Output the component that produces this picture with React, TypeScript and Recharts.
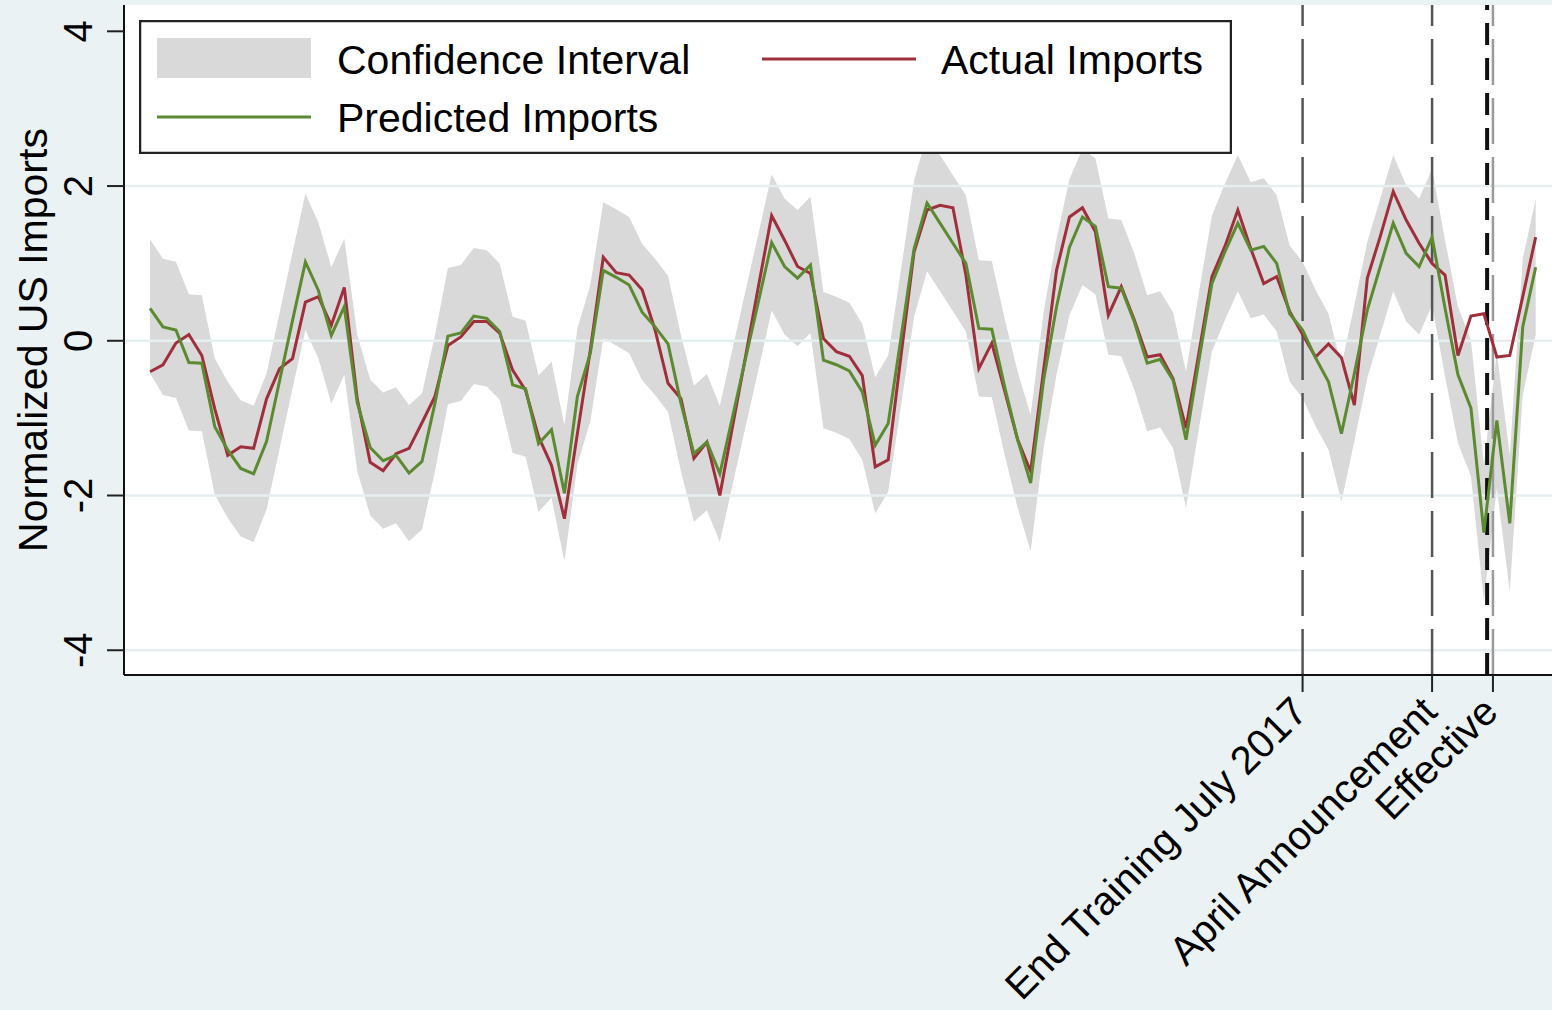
import React from 'react';
import { ComposedChart, Area, Line, XAxis, YAxis, ReferenceLine, CartesianGrid, Legend } from 'recharts';

// monthly series, index 0 = first month shown
const actual = [
  -0.40, -0.31, -0.03, 0.08, -0.19, -0.88, -1.48, -1.37, -1.39, -0.75,
  -0.36, -0.23, 0.50, 0.57, 0.20, 0.69, -0.75, -1.57, -1.68, -1.46,
  -1.39, -1.06, -0.72, -0.06, 0.05, 0.25, 0.25, 0.10, -0.38, -0.64,
  -1.24, -1.61, -2.30, -1.20, -0.12, 1.08, 0.88, 0.85, 0.66, 0.14,
  -0.55, -0.75, -1.52, -1.31, -2.00, -1.09, -0.19, 0.72, 1.62, 1.30,
  0.96, 0.87, 0.03, -0.14, -0.20, -0.45, -1.63, -1.54, -0.18, 1.15,
  1.69, 1.75, 1.72, 0.85, -0.36, -0.03, -0.65, -1.28, -1.69, -0.38,
  0.91, 1.60, 1.72, 1.41, 0.33, 0.70, 0.27, -0.21, -0.18, -0.49,
  -1.13, -0.15, 0.83, 1.22, 1.69, 1.19, 0.74, 0.83, 0.38, 0.08,
  -0.21, -0.04, -0.22, -0.83, 0.81, 1.35, 1.93, 1.56, 1.26, 1.00,
  0.85, -0.19, 0.32, 0.35, -0.21, -0.19, 0.57, 1.34,
];

const predicted = [
  0.42, 0.18, 0.14, -0.28, -0.29, -1.11, -1.41, -1.65, -1.72, -1.30,
  -0.52, 0.26, 1.02, 0.65, 0.07, 0.44, -0.80, -1.38, -1.55, -1.48,
  -1.71, -1.56, -0.81, 0.06, 0.10, 0.32, 0.29, 0.12, -0.57, -0.62,
  -1.33, -1.15, -1.97, -0.72, -0.16, 0.91, 0.82, 0.72, 0.37, 0.18,
  -0.04, -0.81, -1.46, -1.31, -1.72, -0.97, -0.22, 0.52, 1.27, 0.96,
  0.81, 0.98, -0.25, -0.31, -0.39, -0.66, -1.35, -1.07, 0.05, 1.19,
  1.78, 1.52, 1.26, 1.00, 0.16, 0.15, -0.60, -1.28, -1.84, -0.51,
  0.44, 1.21, 1.60, 1.48, 0.70, 0.68, 0.25, -0.29, -0.24, -0.51,
  -1.28, -0.25, 0.74, 1.15, 1.52, 1.17, 1.22, 1.00, 0.35, 0.14,
  -0.22, -0.53, -1.20, -0.42, 0.40, 0.96, 1.52, 1.13, 0.96, 1.34,
  0.42, -0.44, -0.87, -2.48, -1.03, -2.36, 0.18, 0.95,
];

const ciLow = [
  -0.42, -0.70, -0.74, -1.16, -1.17, -1.99, -2.29, -2.53, -2.60, -2.18,
  -1.40, -0.62, 0.14, -0.23, -0.81, -0.44, -1.68, -2.26, -2.43, -2.36,
  -2.59, -2.44, -1.69, -0.82, -0.78, -0.56, -0.59, -0.76, -1.45, -1.50,
  -2.21, -2.03, -2.85, -1.60, -1.04, 0.03, -0.06, -0.16, -0.51, -0.70,
  -0.92, -1.69, -2.34, -2.19, -2.60, -1.85, -1.10, -0.36, 0.39, 0.08,
  -0.07, 0.10, -1.13, -1.19, -1.27, -1.54, -2.23, -1.95, -0.83, 0.31,
  0.90, 0.64, 0.38, 0.12, -0.72, -0.73, -1.48, -2.16, -2.72, -1.39,
  -0.44, 0.33, 0.72, 0.60, -0.18, -0.20, -0.63, -1.17, -1.12, -1.39,
  -2.16, -1.13, -0.14, 0.27, 0.64, 0.29, 0.34, 0.12, -0.53, -0.74,
  -1.10, -1.41, -2.08, -1.30, -0.48, 0.08, 0.64, 0.25, 0.08, 0.46,
  -0.46, -1.32, -1.75, -3.36, -1.91, -3.24, -0.70, 0.07,
];

const ciHigh = [
  1.31, 1.06, 1.02, 0.60, 0.59, -0.23, -0.53, -0.77, -0.84, -0.42,
  0.36, 1.14, 1.90, 1.53, 0.95, 1.32, 0.08, -0.50, -0.67, -0.60,
  -0.83, -0.68, 0.07, 0.94, 0.98, 1.20, 1.17, 1.00, 0.31, 0.26,
  -0.45, -0.27, -1.09, 0.16, 0.72, 1.79, 1.70, 1.60, 1.25, 1.06,
  0.84, 0.07, -0.58, -0.43, -0.84, -0.09, 0.66, 1.40, 2.15, 1.84,
  1.69, 1.86, 0.63, 0.57, 0.49, 0.22, -0.47, -0.19, 0.93, 2.07,
  2.66, 2.40, 2.14, 1.88, 1.04, 1.03, 0.28, -0.40, -0.96, 0.37,
  1.32, 2.09, 2.48, 2.36, 1.58, 1.56, 1.13, 0.59, 0.64, 0.37,
  -0.40, 0.63, 1.62, 2.03, 2.40, 2.05, 2.10, 1.88, 1.23, 1.02,
  0.66, 0.35, -0.32, 0.46, 1.28, 1.84, 2.40, 2.01, 1.84, 2.22,
  1.30, 0.44, 0.01, -1.60, -0.15, -1.48, 1.06, 1.83,
];

const eventTicks = [89, 99, 103.7];
const eventLabels = ['End Training July 2017', 'April Announcement', 'Effective'];
const effectiveLine = 103.25;
const yTicks = [-4, -2, 0, 2, 4];
const gridValues = [-4, -2, 0, 2];

const data = actual.map((a, i) => ({
  t: i,
  actual: a,
  predicted: predicted[i],
  ci: [ciLow[i], ciHigh[i]],
}));

const FONT = '"Liberation Sans", Arial, Helvetica, sans-serif';
const RED = '#9e2f3b';
const GREEN = '#5b8a30';
const CI_FILL = '#d9d9d9';

function YTick(props: any) {
  const { y, payload } = props;
  const bx = 92;
  return (
    <text x={bx} y={y} transform={`rotate(-90 ${bx} ${y})`} textAnchor="middle"
      fontFamily={FONT} fontSize={40} fill="#000">
      {payload.value}
    </text>
  );
}

function XTick(props: any) {
  const { x, payload } = props;
  const idx = eventTicks.indexOf(payload.value);
  const ax = x + 7;
  const ay = 714;
  return (
    <text x={ax} y={ay} transform={`rotate(-45 ${ax} ${ay})`} textAnchor="end"
      fontFamily={FONT} fontSize={40} fill="#000">
      {idx >= 0 ? eventLabels[idx] : ''}
    </text>
  );
}

function LegendBox() {
  return (
    <svg width={1093} height={134} style={{ display: 'block' }}>
      <rect x={1} y={1} width={1091} height={132} fill="#fff" stroke="#222" strokeWidth={2.5} />
      <rect x={18} y={18} width={154} height={40} fill={CI_FILL} />
      <text x={198} y={54} fontFamily={FONT} fontSize={41} fill="#000">Confidence Interval</text>
      <line x1={623} x2={777} y1={39} y2={39} stroke={RED} strokeWidth={3} />
      <text x={802} y={54} fontFamily={FONT} fontSize={41} fill="#000">Actual Imports</text>
      <line x1={18} x2={172} y1={97} y2={97} stroke={GREEN} strokeWidth={3} />
      <text x={198} y={112} fontFamily={FONT} fontSize={41} fill="#000">Predicted Imports</text>
    </svg>
  );
}

export default function App() {
  return (
    <div style={{ position: 'absolute', left: 0, top: 0, width: 1552, height: 1010, background: '#eaf2f3', overflow: 'hidden' }}>
      <ComposedChart width={1552} height={1010} data={data}
        margin={{ top: 5, right: 0, bottom: 0, left: 0 }}>
        <CartesianGrid horizontal={false} vertical={false} fill="#ffffff" fillOpacity={1} />
        {gridValues.map((v) => (
          <ReferenceLine key={`g${v}`} y={v} stroke="#e6eff0" strokeWidth={2.5} />
        ))}
        <XAxis dataKey="t" type="number" domain={[-2.01, 108.26]} allowDataOverflow
          ticks={eventTicks} interval={0} height={335} tickSize={17}
          axisLine={{ stroke: '#111', strokeWidth: 2 }}
          tickLine={{ stroke: '#222', strokeWidth: 2 }}
          tick={<XTick />} />
        <YAxis type="number" domain={[-4.32, 4.34]} allowDataOverflow ticks={yTicks}
          width={124} tickSize={17} interval={0}
          axisLine={{ stroke: '#111', strokeWidth: 2 }}
          tickLine={{ stroke: '#222', strokeWidth: 2 }}
          tick={<YTick />}
          label={{
            content: () => (
              <text x={47} y={340} transform="rotate(-90 47 340)" textAnchor="middle"
                fontFamily={FONT} fontSize={41} fill="#000">Normalized US Imports</text>
            ),
          }} />
        <Area dataKey="ci" type="linear" stroke="none" fill={CI_FILL} fillOpacity={1}
          isAnimationActive={false} name="Confidence Interval" />
        <ReferenceLine x={eventTicks[0]} stroke="#555" strokeWidth={2.5} strokeDasharray="46 13" />
        <ReferenceLine x={eventTicks[1]} stroke="#555" strokeWidth={2.5} strokeDasharray="46 13" />
        <ReferenceLine x={eventTicks[2]} stroke="#9a9a9a" strokeWidth={2.5} strokeDasharray="46 13" />
        <ReferenceLine x={effectiveLine} stroke="#111" strokeWidth={4} strokeDasharray="22 13" />
        <Line dataKey="actual" type="linear" stroke={RED} strokeWidth={3} dot={false}
          isAnimationActive={false} name="Actual Imports" />
        <Line dataKey="predicted" type="linear" stroke={GREEN} strokeWidth={3} dot={false}
          isAnimationActive={false} name="Predicted Imports" />
        <Legend layout="horizontal" verticalAlign="middle" align="center"
          content={() => <LegendBox />}
          wrapperStyle={{ position: 'absolute', left: 139, top: 20, width: 1093, height: 134 }} />
      </ComposedChart>
    </div>
  );
}
